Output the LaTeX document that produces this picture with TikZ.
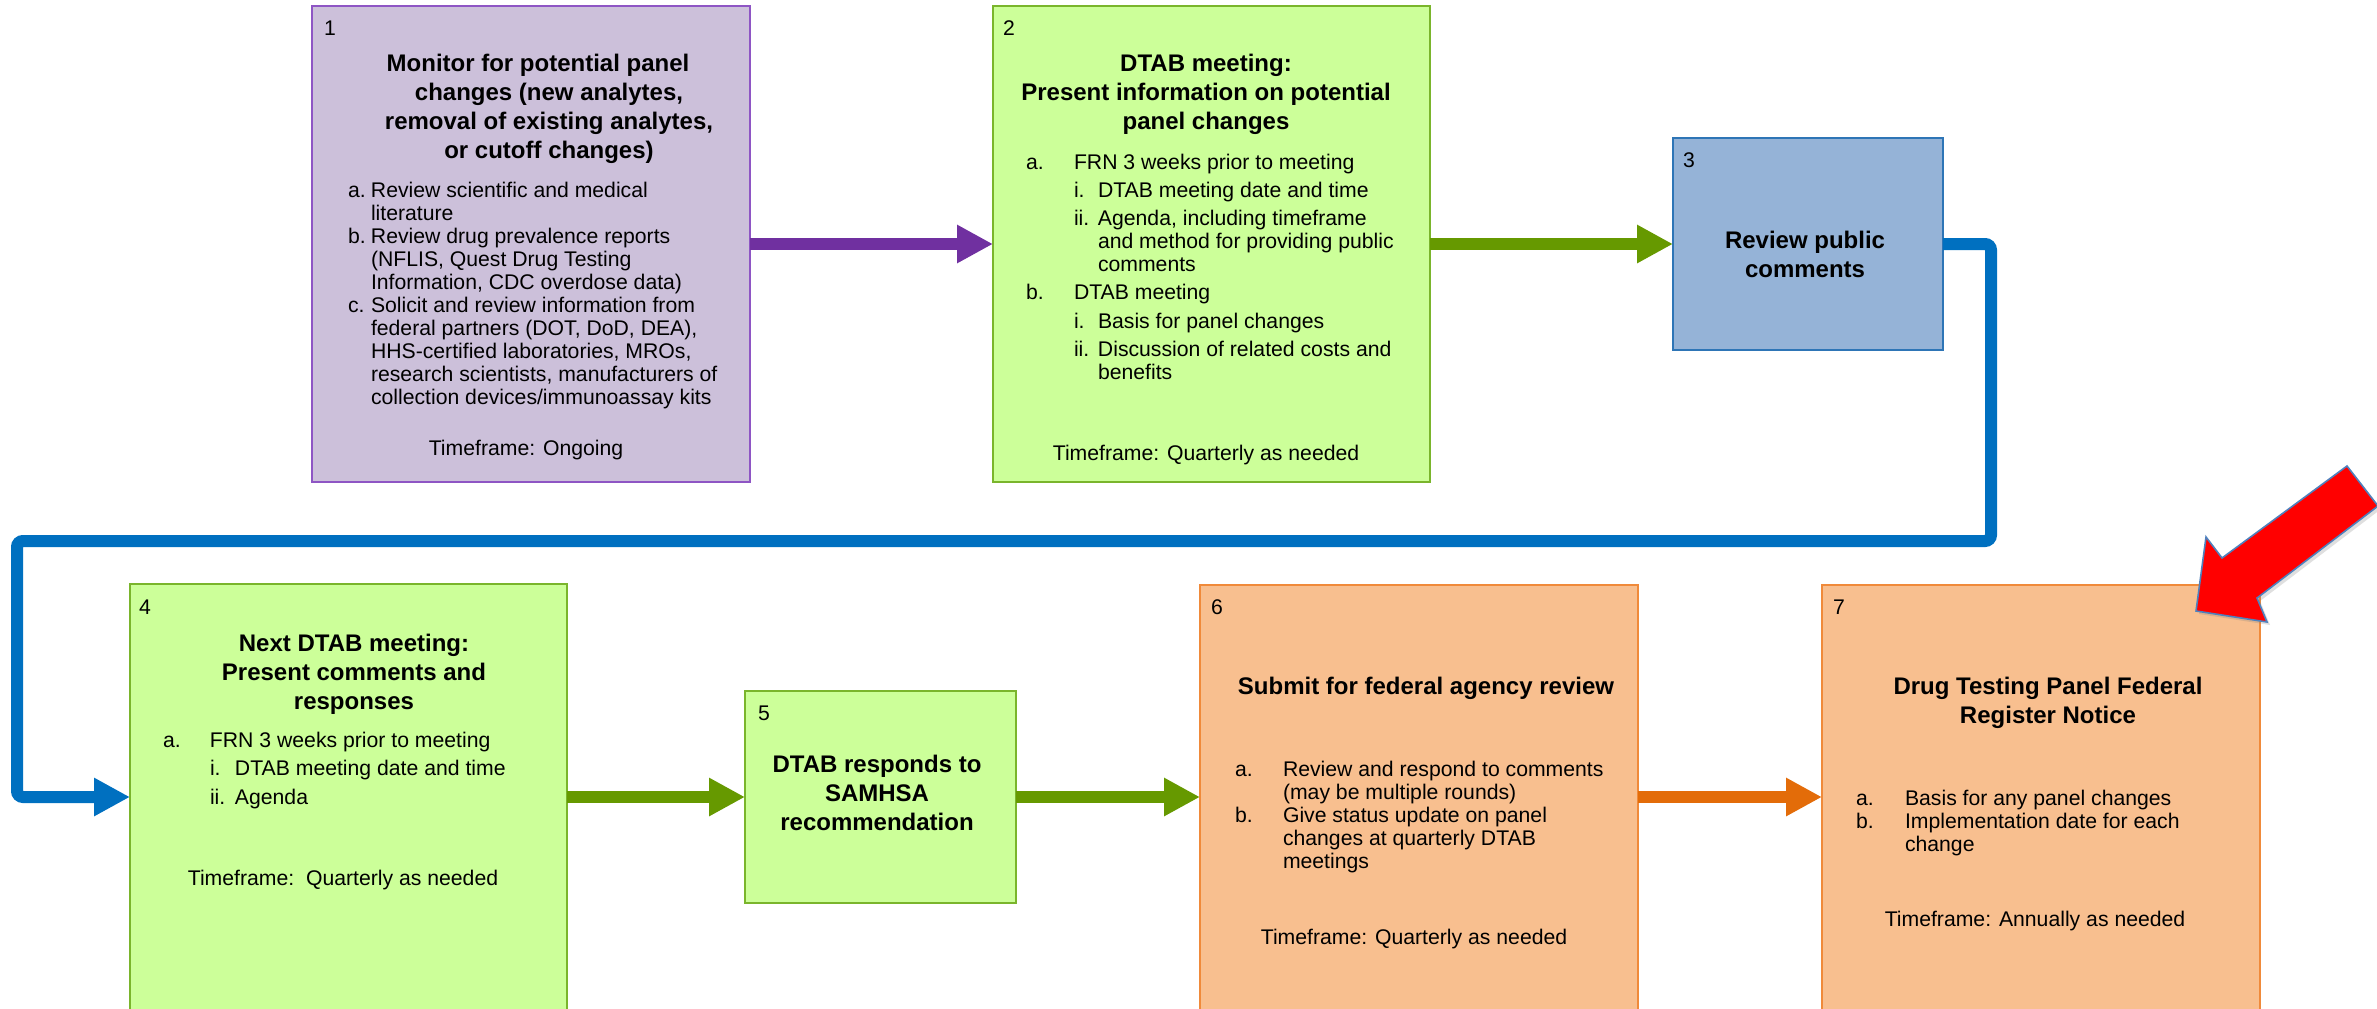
\documentclass[tikz,border=0pt]{standalone}
\usepackage{fontspec}
\setmainfont{Liberation Sans}
\usetikzlibrary{arrows.meta,shadows}
\definecolor{purp}{HTML}{7030A0}
\definecolor{pborder}{HTML}{8E55C4}
\definecolor{lav}{HTML}{CCC0DA}
\definecolor{lgreen}{HTML}{CCFF99}
\definecolor{gborder}{HTML}{7AB52C}
\definecolor{garrow}{HTML}{669900}
\definecolor{lblue}{HTML}{95B3D7}
\definecolor{bborder}{HTML}{2E75B6}
\definecolor{cblue}{HTML}{0070C0}
\definecolor{lorange}{HTML}{F8BF8F}
\definecolor{oborder}{HTML}{F08A3A}
\definecolor{oarrow}{HTML}{E36C09}
\definecolor{redar}{HTML}{FF0000}
\definecolor{redline}{HTML}{4F81BD}
\newcommand{\lab}[2]{\makebox[#1][l]{#2}}
\newcommand{\ind}[1]{\hspace*{#1}}
\begin{document}
\begin{tikzpicture}[x=0.5pt,y=-0.5pt,
  box/.style={draw, line width=1pt, inner sep=0pt, outer sep=0pt, anchor=north west},
  tx/.style={inner sep=0pt, outer sep=0pt, anchor=base west, align=left, font=\fontsize{10.6}{11.5}\selectfont},
  tf/.style={inner sep=0pt, outer sep=0pt, anchor=base, align=center, font=\fontsize{10.6}{11.5}\selectfont},
  hd/.style={inner sep=0pt, outer sep=0pt, anchor=base, align=center, font=\fontsize{12}{14.5}\selectfont\bfseries},
  conn/.style={line width=6pt, -{Triangle[length=18pt 0 1, width=18pt 0 1]}},
]
\useasboundingbox (0,0) rectangle (2377,1008);
\clip (0,0) rectangle (2377,1008);
\fill[white] (0,0) rectangle (2377,1008);

% ---------- boxes ----------
\node[box, fill=lav, draw=pborder, minimum width=219pt, minimum height=238pt] (b1) at (312,6) {};
\node[box, fill=lgreen, draw=gborder, minimum width=218.5pt, minimum height=238pt] (b2) at (993,6) {};
\node[box, fill=lblue, draw=bborder, minimum width=135pt, minimum height=106pt] (b3) at (1673,138) {};
\node[box, fill=lgreen, draw=gborder, minimum width=218.5pt, minimum height=220pt] (b4) at (130,584) {};
\node[box, fill=lgreen, draw=gborder, minimum width=135.5pt, minimum height=106pt] (b5) at (745,691) {};
\node[box, fill=lorange, draw=oborder, minimum width=219pt, minimum height=220pt] (b6) at (1200,585) {};
\node[box, fill=lorange, draw=oborder, minimum width=219pt, minimum height=220pt] (b7) at (1822,585) {};

% (multi-line text nodes are placed by the baseline of their LAST line)
% ---------- box 1 ----------
\node[tx] (n1) at (324,35) {1};
\node[hd] (h1) at (549,158) {Monitor for potential panel\hspace*{11pt}\\changes (new analytes,\\removal of  existing analytes,\\or cutoff changes)};
\node[tx] (t1) at (348,404) {\lab{11.5pt}{a.}Review scientific and medical\\\ind{11.5pt}literature\\
\lab{11.5pt}{b.}Review drug prevalence reports\\\ind{11.5pt}(NFLIS, Quest Drug Testing\\\ind{11.5pt}Information, CDC overdose data)\\
\lab{11.5pt}{c.}Solicit and review information from\\\ind{11.5pt}federal partners (DOT, DoD, DEA),\\\ind{11.5pt}HHS-certified laboratories, MROs,\\\ind{11.5pt}research scientists, manufacturers of\\\ind{11.5pt}collection devices/immunoassay kits};
\node[tf] (f1) at (526,455) {Timeframe: Ongoing};

% ---------- box 2 ----------
\node[tx] (n2) at (1003,35) {2};
\node[hd] (h2) at (1206,129) {DTAB meeting:\\Present information on potential\\panel changes};
\node[tx] (t2a) at (1026,169) {\lab{24pt}{a.}FRN 3 weeks prior to meeting};
\node[tx] (t2ai) at (1074,197) {\lab{12pt}{i.}DTAB meeting date and time};
\node[tx] (t2aii) at (1074,271) {\lab{12pt}{ii.}Agenda, including timeframe\\\ind{12pt}and method for providing public\\\ind{12pt}comments};
\node[tx] (t2b) at (1026,299) {\lab{24pt}{b.}DTAB meeting};
\node[tx] (t2bi) at (1074,328) {\lab{12pt}{i.}Basis for panel changes};
\node[tx] (t2bii) at (1074,379) {\lab{12pt}{ii.}Discussion of related costs and\\\ind{12pt}benefits};
\node[tf] (f2) at (1206,460) {Timeframe: Quarterly as needed};

% ---------- box 3 ----------
\node[tx] (n3) at (1683,167) {3};
\node[hd] (h3) at (1805,277) {Review public\\comments};

% ---------- box 4 ----------
\node[tx] (n4) at (139,614) {4};
\node[hd] (h4) at (354,709) {Next DTAB meeting:\\Present comments and\\responses};
\node[tx] (t4a) at (163,747) {\lab{23.5pt}{a.}FRN 3 weeks prior to meeting};
\node[tx] (t4ai) at (210,775) {\lab{12.5pt}{i.}DTAB meeting date and time};
\node[tx] (t4aii) at (210,804) {\lab{12.5pt}{ii.}Agenda};
\node[tf] (f4) at (343,885) {Timeframe:\ \ Quarterly as needed};

% ---------- box 5 ----------
\node[tx] (n5) at (758,720) {5};
\node[hd] (h5) at (877,830) {DTAB responds to\\SAMHSA\\recommendation};

% ---------- box 6 ----------
\node[tx] (n6) at (1211,614) {6};
\node[hd] (h6) at (1426,694) {Submit for federal agency review};
\node[tx] (t6) at (1235,868) {\lab{24pt}{a.}Review and respond to comments\\\ind{24pt}(may be multiple rounds)\\
\lab{24pt}{b.}Give status update on panel\\\ind{24pt}changes at quarterly DTAB\\\ind{24pt}meetings};
\node[tf] (f6) at (1414,944) {Timeframe: Quarterly as needed};

% ---------- box 7 ----------
\node[tx] (n7) at (1833,614) {7};
\node[hd] (h7) at (2048,723) {Drug Testing Panel Federal\\Register Notice};
\node[tx] (t7) at (1856,851) {\lab{24.5pt}{a.}Basis for any panel changes\\
\lab{24.5pt}{b.}Implementation date for each\\\ind{24.5pt}change};
\node[tf] (f7) at (2035,926) {Timeframe: Annually as needed};

% ---------- connectors ----------
\coordinate (c1) at (1991,541);
\coordinate (c2) at (17,797);
\draw[conn, purp] (b1.east) -- (b2.west);
\draw[conn, garrow] (b2.east) -- (b3.west);
\draw[conn, cblue, rounded corners=3pt] (b3.east) -| (c1) -| (c2) -- (b4.west |- c2);
\draw[conn, garrow] (b4.east |- c2) -- (b5.west |- c2);
\draw[conn, garrow] (b5.east |- c2) -- (b6.west |- c2);
\draw[conn, oarrow] (b6.east |- c2) -- (b7.west |- c2);

% ---------- red callout arrow ----------
\filldraw[fill=redar, draw=redline, line width=0.8pt, line join=miter,
  drop shadow={shadow xshift=1.5pt, shadow yshift=-1.5pt, opacity=0.25}]
  (2196,611) -- (2267,622) -- (2257,598) -- (2378,506) -- (2347,466)
  -- (2222,558) -- (2206,537) -- cycle;
\end{tikzpicture}
\end{document}
